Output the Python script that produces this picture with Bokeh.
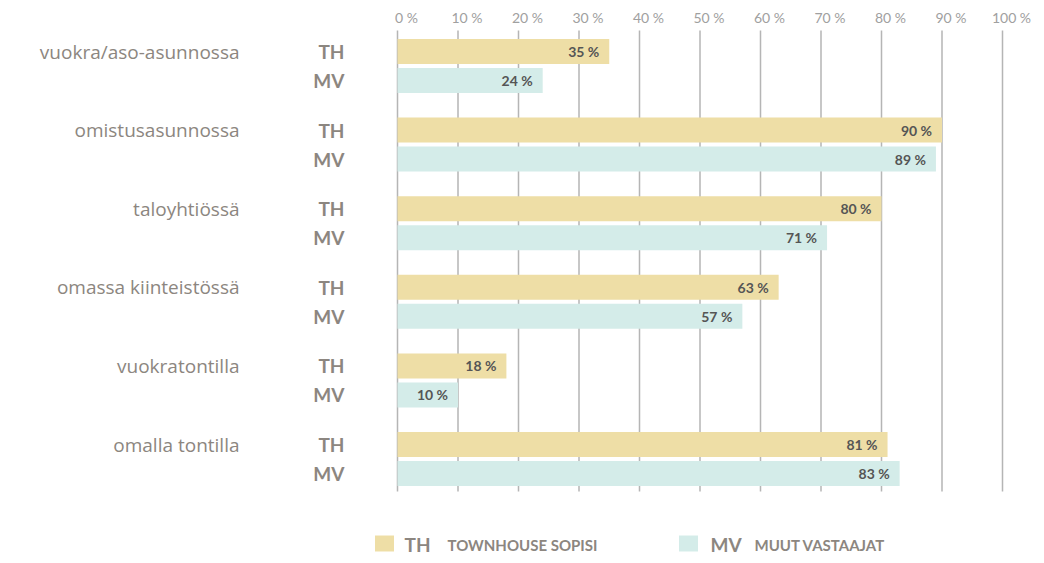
from bokeh.plotting import figure
from bokeh.models import ColumnDataSource, Range1d
from bokeh.core.properties import value
from bokeh.embed import file_html
from bokeh.resources import INLINE

# ---------------- data ----------------
categories = ["vuokra/aso-asunnossa", "omistusasunnossa", "taloyhtiössä",
              "omassa kiinteistössä", "vuokratontilla", "omalla tontilla"]
th_values = [35, 90, 80, 63, 18, 81]
mv_values = [24, 89, 71, 57, 10, 83]
series_codes = ["TH", "MV"]
series_names = ["TOWNHOUSE SOPISI", "MUUT VASTAAJAT"]
x_ticks = [0, 10, 20, 30, 40, 50, 60, 70, 80, 90, 100]
x_tick_labels = [f"{t} %" for t in x_ticks]

# ---------------- layout / style ----------------
W, H = 1036, 556
PX0 = 397            # pixel of 0 %
PX_PER = 6.05        # pixels per 1 %
FONT = "Lato"
CAT_FONT = "Open Sans"
TH_COLOR = "#EEDEA6"
MV_COLOR = "#D4ECE9"
GRAY = "#8c8680"
TICK_GRAY = "#a0a0a0"
GRID_GRAY = "#b5b5b5"
VAL_COLOR = "#555555"
ROW0 = 51            # y (px) of first TH bar centre
GROUP = 78.6         # px per category
MV_GAP = 29          # px between TH and MV bar centres
BAR_H = 25
GRID_TOP, GRID_BOTTOM = 30, 491
TICK_Y = 17
LEG_Y = 543


def px_x(px):
    return (px - PX0) / PX_PER


n = len(categories)
y_th = [ROW0 + GROUP * i for i in range(n)]
y_mv = [ROW0 + GROUP * i + MV_GAP for i in range(n)]

src_th = ColumnDataSource(dict(y=y_th, v=th_values, lbl=[f"{v} %" for v in th_values],
                               x0=[0] * n, code=[series_codes[0]] * n, cat=categories))
src_mv = ColumnDataSource(dict(y=y_mv, v=mv_values, lbl=[f"{v} %" for v in mv_values],
                               x0=[0] * n, code=[series_codes[1]] * n))

p = figure(width=W, height=H, output_backend="svg", toolbar_location=None,
           x_range=Range1d(px_x(0), px_x(W)), y_range=Range1d(H, 0),
           x_axis_location=None, y_axis_location=None,
           min_border=0, min_border_left=0, min_border_right=0,
           min_border_top=0, min_border_bottom=0)
p.outline_line_color = None
p.grid.visible = False
p.background_fill_color = "white"
p.border_fill_color = "white"

# vertical grid lines
p.segment(x0=x_ticks, x1=x_ticks, y0=[GRID_TOP] * len(x_ticks),
          y1=[GRID_BOTTOM] * len(x_ticks), line_color=GRID_GRAY, line_width=1.5)
# tick labels on top
p.text(x=x_ticks, y=[TICK_Y] * len(x_ticks), text=x_tick_labels, x_offset=9,
       text_align="center", text_baseline="middle", text_font=value(FONT),
       text_font_size="14px", text_color=TICK_GRAY)

# bars
r_th = p.hbar(y="y", right="v", left=0, height=BAR_H, source=src_th,
              fill_color=TH_COLOR, line_color=None)
r_mv = p.hbar(y="y", right="v", left=0, height=BAR_H, source=src_mv,
              fill_color=MV_COLOR, line_color=None)

for src in (src_th, src_mv):
    # value labels
    p.text(x="v", y="y", text="lbl", source=src, x_offset=-10,
           text_align="right", text_baseline="middle",
           text_font=value(FONT), text_font_style="bold",
           text_font_size="14px", text_color=VAL_COLOR)
    # TH / MV codes
    p.text(x="x0", y="y", text="code", source=src, x_offset=-53,
           text_align="right", text_baseline="middle",
           text_font=value(FONT), text_font_style="bold",
           text_font_size="19px", text_color=GRAY)

# category names
p.text(x="x0", y="y", text="cat", source=src_th, x_offset=-158,
       text_align="right", text_baseline="middle",
       text_font=value(CAT_FONT), text_font_size="19px", text_color=GRAY)

# ---------------- legend ----------------
key_px = [384, 688]
code_px = [404, 710]
name_px = [447, 754]
p.rect(x=[px_x(v) for v in key_px], y=[LEG_Y] * 2, width=19, height=16,
       width_units="screen", height_units="screen",
       fill_color=[TH_COLOR, MV_COLOR], line_color=None)
p.text(x=[px_x(v) for v in code_px], y=[LEG_Y + 1] * 2, text=series_codes,
       text_align="left", text_baseline="middle", text_font=value(FONT),
       text_font_style="bold", text_font_size="19px", text_color=GRAY)
p.text(x=[px_x(v) for v in name_px], y=[LEG_Y + 1] * 2, text=series_names,
       text_align="left", text_baseline="middle", text_font=value(FONT),
       text_font_style="bold", text_font_size="15px", text_color=GRAY)

open("out.html", "w").write(file_html(p, INLINE))
